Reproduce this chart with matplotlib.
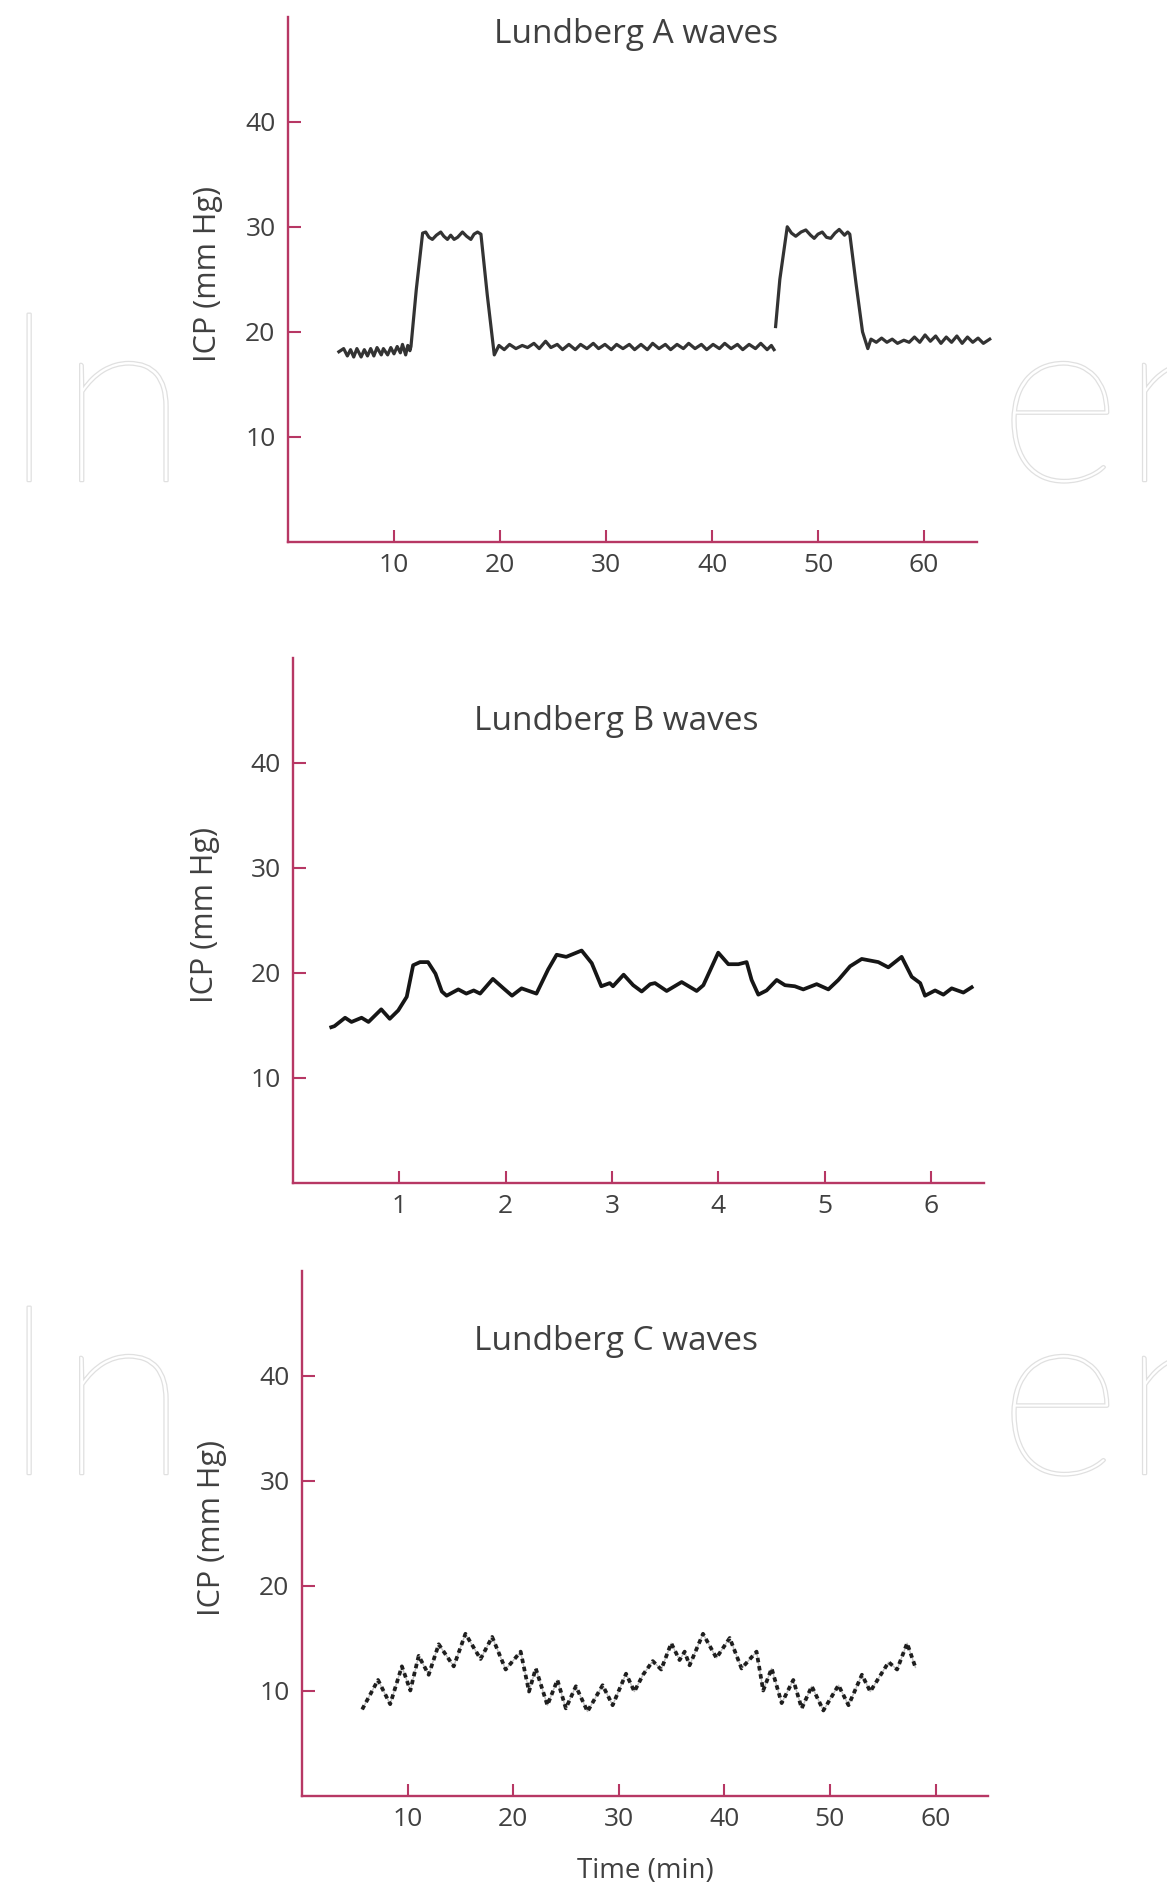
import matplotlib
matplotlib.use('Agg')
import matplotlib.pyplot as plt
import matplotlib.patheffects as pe
import numpy as np

plt.rcParams['font.family'] = ['Open Sans', 'DejaVu Sans']

# ---------------- data ----------------
a_time = [4.8, 5.25, 5.6, 5.9, 6.2, 6.5, 6.9, 7.2, 7.5, 7.8, 8.1, 8.4, 8.8, 9.0, 9.4, 9.7,
          10.0, 10.3, 10.6, 10.8, 11.1, 11.3, 11.5,
          11.6, 12.1, 12.7,
          12.99, 13.3, 13.62, 14.0, 14.41, 14.7, 15.04, 15.35, 15.67, 16.0, 16.46, 16.85,
          17.25, 17.55, 17.88, 18.2,
          18.8, 19.46,
          19.9, 20.4, 20.9, 21.5, 22.1, 22.6, 23.2, 23.7, 24.3, 24.8, 25.4, 25.9, 26.5,
          27.1, 27.6, 28.2, 28.8, 29.3, 29.9, 30.5, 31.0, 31.6, 32.2, 32.7, 33.3, 33.9,
          34.4, 35.0, 35.6, 36.1, 36.7, 37.3, 37.8, 38.4, 39.0, 39.5, 40.1, 40.7, 41.2,
          41.8, 42.4, 42.9, 43.5, 44.1, 44.6, 45.2, 45.6, 45.85,
          45.9,
          46.0, 46.4, 47.1,
          47.5, 47.9, 48.4, 48.85, 49.3, 49.64, 50.0, 50.4, 50.8, 51.2, 51.6, 52.0, 52.5, 52.8,
          53.0, 53.6, 54.2, 54.7,
          55.0, 55.5, 56.0, 56.5, 57.0, 57.5, 58.1, 58.6, 59.1, 59.6, 60.1, 60.6, 61.1,
          61.6, 62.1, 62.6, 63.1, 63.6, 64.1, 64.6, 65.1, 65.6, 66.2]
a_icp = [18.1, 18.4, 17.7, 18.3, 17.6, 18.4, 17.6, 18.3, 17.7, 18.4, 17.7, 18.5, 17.8, 18.4, 17.8, 18.5,
         17.9, 18.6, 18.0, 18.8, 17.8, 18.7, 18.2,
         18.6, 24.0, 29.4,
         29.5, 29.0, 28.8, 29.2, 29.5, 29.1, 28.8, 29.2, 28.8, 29.0, 29.5, 29.1,
         28.8, 29.3, 29.5, 29.3,
         23.5, 17.8,
         18.7, 18.3, 18.8, 18.4, 18.7, 18.5, 18.9, 18.4, 19.1, 18.5, 18.8, 18.3, 18.8,
         18.3, 18.8, 18.4, 18.9, 18.4, 18.8, 18.3, 18.8, 18.4, 18.8, 18.3, 18.8, 18.3,
         18.9, 18.4, 18.8, 18.3, 18.8, 18.4, 18.9, 18.4, 18.8, 18.3, 18.8, 18.4, 18.9,
         18.4, 18.8, 18.3, 18.8, 18.4, 18.9, 18.3, 18.7, 18.3,
         np.nan,
         20.5, 25.0, 30.0,
         29.4, 29.1, 29.5, 29.7, 29.2, 28.9, 29.3, 29.5, 29.0, 28.9, 29.4, 29.75, 29.2, 29.5,
         29.3, 24.5, 20.0, 18.4,
         19.3, 19.0, 19.4, 19.0, 19.3, 18.9, 19.2, 19.0, 19.5, 19.0, 19.7, 19.1, 19.6,
         18.9, 19.5, 19.0, 19.6, 18.9, 19.5, 19.0, 19.4, 18.9, 19.3]

b_time = [0.36, 0.39, 0.49, 0.55, 0.645, 0.71, 0.83, 0.91, 0.99, 1.07, 1.13, 1.195, 1.27,
          1.34, 1.40, 1.445, 1.555, 1.63, 1.70, 1.76, 1.88, 1.98, 2.06, 2.15, 2.29, 2.40,
          2.48, 2.57, 2.715, 2.81, 2.90, 2.98, 3.01, 3.11, 3.20, 3.28, 3.36, 3.405, 3.515,
          3.656, 3.797, 3.86, 4.00, 4.095, 4.19, 4.267, 4.314, 4.377, 4.455, 4.55, 4.628,
          4.72, 4.80, 4.926, 5.036, 5.13, 5.24, 5.35, 5.506, 5.60, 5.725, 5.82, 5.90,
          5.945, 6.04, 6.118, 6.196, 6.306, 6.384]
b_icp = [14.8, 14.9, 15.7, 15.3, 15.7, 15.3, 16.5, 15.6, 16.4, 17.7, 20.7, 21.0, 21.0,
         19.9, 18.2, 17.8, 18.4, 18.0, 18.3, 18.0, 19.4, 18.5, 17.8, 18.5, 18.0, 20.3,
         21.7, 21.5, 22.1, 20.9, 18.7, 19.0, 18.7, 19.8, 18.8, 18.2, 18.9, 19.0, 18.25,
         19.1, 18.25, 18.8, 21.9, 20.8, 20.8, 21.0, 19.3, 17.9, 18.3, 19.3, 18.8,
         18.7, 18.4, 18.9, 18.4, 19.3, 20.6, 21.3, 21.0, 20.5, 21.5, 19.6, 19.0,
         17.8, 18.3, 17.9, 18.5, 18.1, 18.6]

c_time = [5.7, 7.2, 8.35, 9.46, 10.26, 11.05, 12.0, 12.95, 14.37, 15.48, 16.91, 18.01,
          19.29, 20.71, 21.5, 22.14, 23.24, 24.19, 24.99, 25.94, 27.04, 28.47, 29.42,
          30.69, 31.48, 32.3, 33.22, 34.02, 34.97, 35.76, 36.24, 36.71, 37.98, 39.25,
          40.51, 41.63, 43.05, 43.68, 44.48, 45.43, 46.53, 47.33, 48.28, 49.38, 50.81,
          51.76, 53.03, 53.82, 55.56, 56.36, 57.31, 58.1]
c_icp = [8.2, 11.0, 8.7, 12.3, 10.0, 13.3, 11.5, 14.4, 12.3, 15.4, 13.0, 15.1,
         12.0, 13.7, 9.9, 12.1, 8.6, 11.0, 8.3, 10.4, 8.0, 10.5, 8.6,
         11.6, 9.9, 11.5, 12.8, 12.0, 14.5, 12.9, 13.7, 12.4, 15.4, 13.1,
         15.0, 12.1, 13.7, 10.0, 12.1, 8.8, 11.0, 8.3, 10.4, 8.1, 10.5,
         8.6, 11.5, 9.9, 12.7, 12.0, 14.5, 12.2]

y_ticks = [10, 20, 30, 40]
ab_ticks_min = [10, 20, 30, 40, 50, 60]
b_ticks = [1, 2, 3, 4, 5, 6]
titles = ['Lundberg A waves', 'Lundberg B waves', 'Lundberg C waves']
ylabel = 'ICP (mm Hg)'
xlabel = 'Time (min)'

# ---------------- style ----------------
W, H = 1167, 1887
AX_COLOR = '#b73764'
TXT = '#404040'

fig = plt.figure(figsize=(W / 100, H / 100), dpi=100)
fig.patch.set_facecolor('white')

# faint watermark
for yb in (481, 1474):
    for xs, s in ((0, 'In'), (998, 'en')):
        fig.text(xs / W, 1 - yb / H, s, fontsize=172, color='white', ha='left',
                 va='baseline', family=['Lato', 'DejaVu Sans'], fontweight='light',
                 path_effects=[pe.withStroke(linewidth=1.8, foreground='#e0e0e0')], zorder=0)


def make_ax(left, right, y0, xlim):
    top = y0 - 50 * 10.5
    return fig.add_axes([left / W, 1 - y0 / H, (right - left) / W, (y0 - top) / H], xlim=xlim, ylim=(0, 50))


def style(ax, xticks, title, txy, ylab_x):
    ax.patch.set_alpha(0)
    for s in ('top', 'right'):
        ax.spines[s].set_visible(False)
    for s in ('left', 'bottom'):
        ax.spines[s].set_color(AX_COLOR)
        ax.spines[s].set_linewidth(1.7)
    ax.set_yticks(y_ticks)
    ax.set_xticks(xticks)
    ax.tick_params(axis='both', direction='in', length=9, width=1.5, color=AX_COLOR,
                   labelcolor=TXT, labelsize=19)
    ax.tick_params(axis='y', pad=9)
    ax.tick_params(axis='x', pad=8)
    ax.set_ylabel(ylabel, fontsize=22, color=TXT)
    ax.yaxis.set_label_coords(ylab_x, 0.51)
    ax.text(txy[0], txy[1], title, fontsize=24, color=TXT, ha='center', va='center')


axA = make_ax(288, 977, 541.8, (0, 65))
axA.plot(a_time, a_icp, color='#333333', lw=2.3, clip_on=False, solid_joinstyle='round')
style(axA, ab_ticks_min, titles[0], (32.8, 48.3), -0.095)

axB = make_ax(293, 984, 1182.6, (0, 6.5))
axB.plot(b_time, b_icp, color='#161616', lw=2.7, solid_joinstyle='round')
style(axB, b_ticks, titles[1], (3.04, 43.9), -0.105)

axC = make_ax(302, 988.3, 1795.5, (0, 65))
axC.plot(c_time, c_icp, color='#bdbdbd', lw=1.0)
axC.plot(c_time, c_icp, color='#1e1e1e', lw=2.7, ls=(0, (1.2, 1.0)))
style(axC, ab_ticks_min, titles[2], (29.7, 43.2), -0.11)
axC.set_xlabel(xlabel, fontsize=20, color=TXT)
axC.xaxis.set_label_coords(0.5, -0.118)

fig.savefig('out.png', dpi=100, facecolor='white')
